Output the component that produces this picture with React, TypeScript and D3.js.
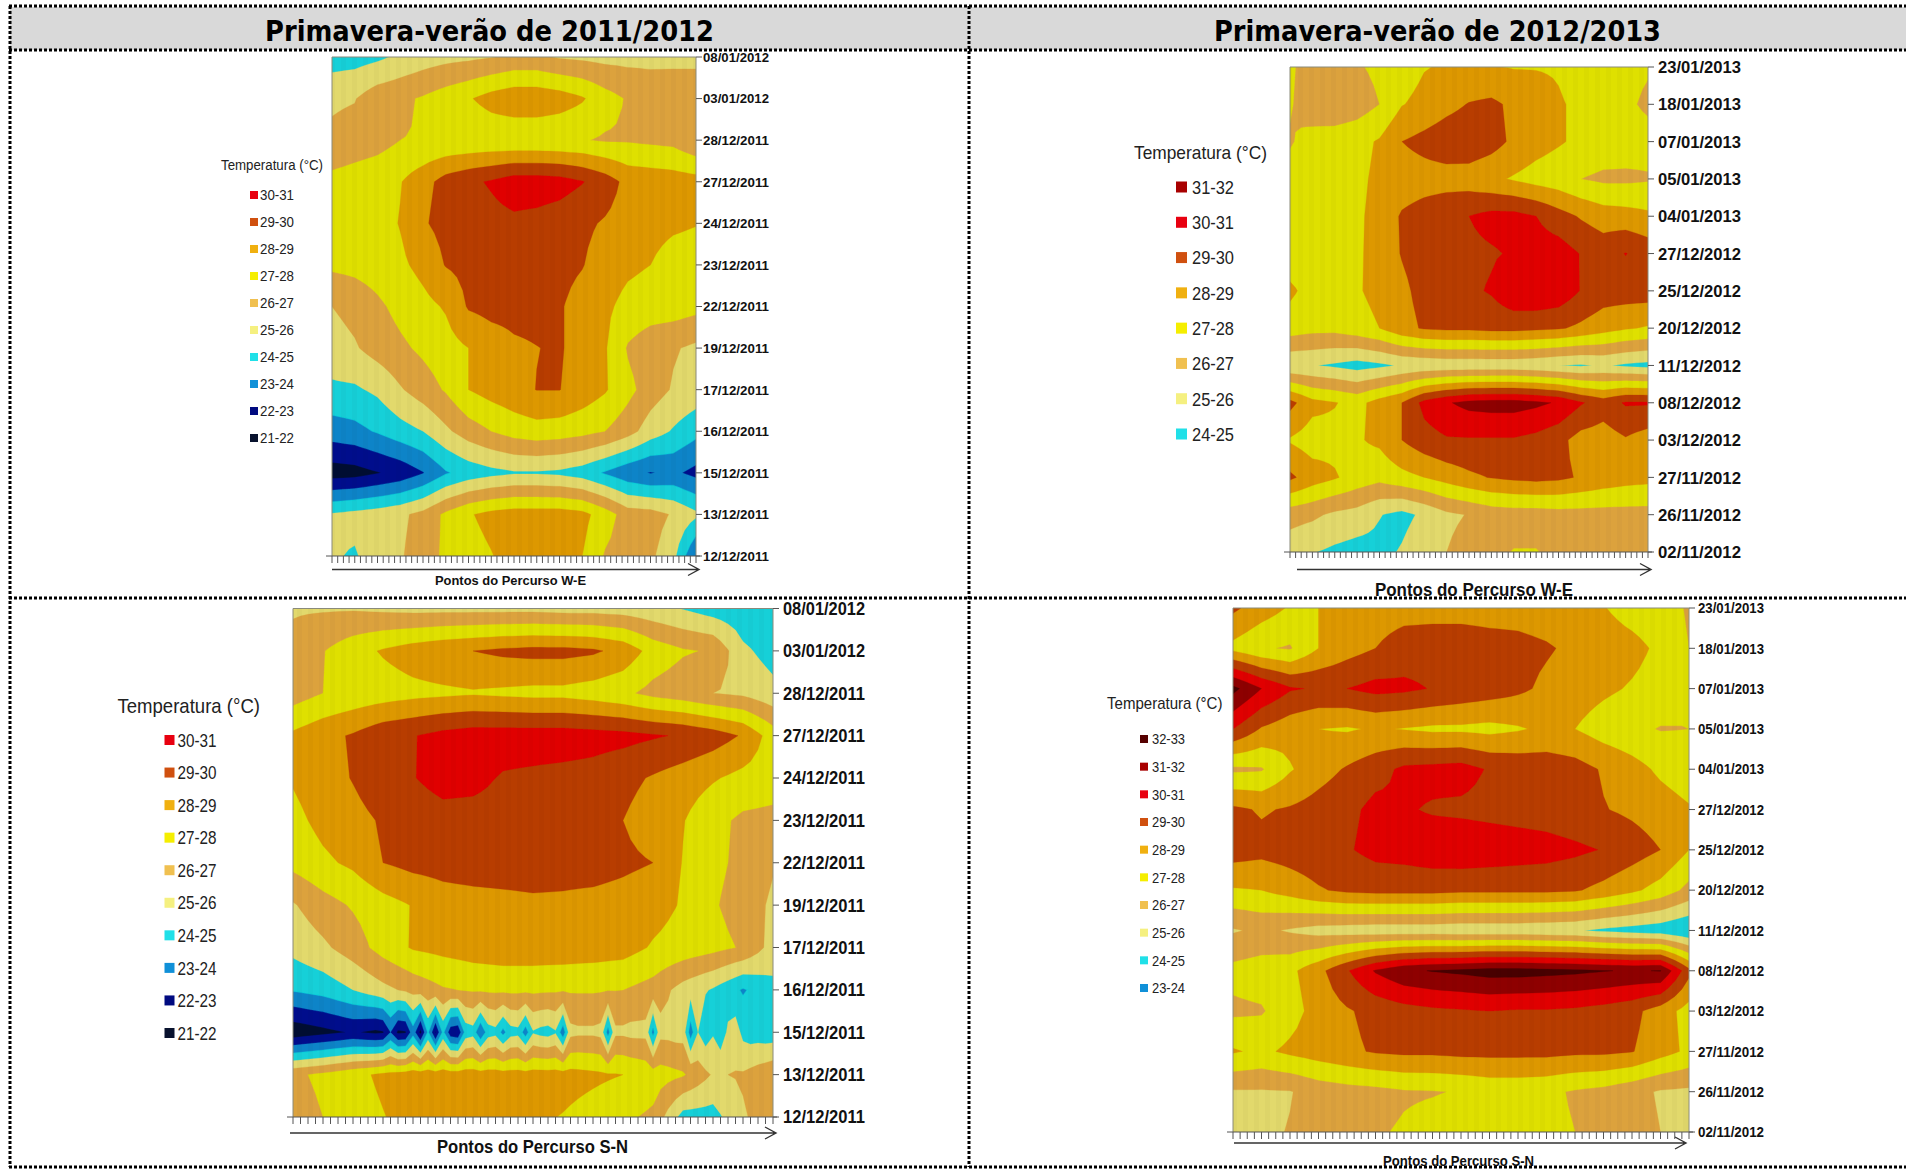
import React from "react";
import * as d3 from "d3";

const bandFloors = [21, 22, 23, 24, 25, 26, 27, 28, 29, 30, 31, 32];
const bandColors = ["#040d33", "#00108c", "#0a84c8", "#12d0d8", "#e2d96c", "#dca23e", "#dfe000", "#dd9800", "#b83c00", "#e00000", "#8e0000", "#480000"];
const legendColors: Record<string, string> = {
  "32-33": "#560000", "31-32": "#a80000", "30-31": "#e80010", "29-30": "#d0500f", "28-29": "#f0b010",
  "27-28": "#f5ee00", "26-27": "#f0c050", "25-26": "#f5f080", "24-25": "#20e0e8", "23-24": "#1090d8", "22-23": "#000a80", "21-22": "#08122e",
};

const datesA = ["08/01/2012", "03/01/2012", "28/12/2011", "27/12/2011", "24/12/2011", "23/12/2011", "22/12/2011", "19/12/2011", "17/12/2011", "16/12/2011", "15/12/2011", "13/12/2011", "12/12/2011"];
const datesB = ["23/01/2013", "18/01/2013", "07/01/2013", "05/01/2013", "04/01/2013", "27/12/2012", "25/12/2012", "20/12/2012", "11/12/2012", "08/12/2012", "03/12/2012", "27/11/2012", "26/11/2012", "02/11/2012"];

const legendA = ["30-31", "29-30", "28-29", "27-28", "26-27", "25-26", "24-25", "23-24", "22-23", "21-22"];
const legendB = ["31-32", "30-31", "29-30", "28-29", "27-28", "26-27", "25-26", "24-25"];
const legendD = ["32-33", "31-32", "30-31", "29-30", "28-29", "27-28", "26-27", "25-26", "24-25", "23-24"];

const gridWE2011 = [
  [24.5, 24.6, 24.8, 25.2, 25.5, 25.7, 25.8, 25.95, 26.2, 26.2, 25.9, 25.8, 25.7, 25.7, 25.7, 25.8, 25.8],
  [25.85, 25.95, 26.6, 26.8, 27.1, 27.5, 27.9, 28.4, 28.7, 28.7, 28.5, 28.1, 27.4, 26.9, 26.7, 26.5, 26.5],
  [26.2, 26.4, 26.6, 27.0, 27.05, 27.1, 27.15, 27.2, 27.15, 27.15, 27.1, 27.05, 26.9, 26.9, 26.8, 26.7, 26.1],
  [27.3, 27.5, 27.7, 27.95, 28.6, 29.4, 29.8, 30.1, 30.5, 30.5, 30.4, 30.05, 29.5, 28.7, 28.6, 28.5, 28.4],
  [27.3, 27.4, 27.6, 28.05, 28.9, 29.3, 29.5, 29.7, 29.8, 29.7, 29.5, 29.2, 28.9, 28.6, 28.4, 28.2, 28.05],
  [27.2, 27.3, 27.5, 27.8, 28.3, 29.05, 29.3, 29.4, 29.4, 29.4, 29.3, 29.05, 28.5, 28.2, 28.0, 27.5, 27.4],
  [26.0, 26.3, 26.8, 27.3, 27.7, 28.1, 29.1, 29.3, 29.3, 29.3, 29.1, 28.6, 28.2, 27.7, 27.5, 27.5, 27.3],
  [25.6, 25.9, 26.4, 26.8, 27.2, 27.6, 28.0, 28.5, 28.85, 28.98, 29.1, 28.6, 28.1, 26.9, 26.4, 26.1, 25.8],
  [24.8, 24.85, 25.2, 25.9, 26.5, 27.1, 28.0, 28.4, 28.7, 29.02, 29.02, 28.6, 28.1, 27.3, 26.5, 25.9, 25.6],
  [23.5, 23.7, 24.1, 24.6, 25.0, 25.8, 26.5, 27.0, 27.4, 27.6, 27.5, 27.3, 27.0, 26.4, 25.5, 24.9, 24.3],
  [21.5, 21.6, 21.95, 22.3, 22.95, 23.9, 24.4, 24.7, 24.9, 24.9, 24.8, 24.5, 23.9, 23.3, 22.95, 23.2, 22.7],
  [25.1, 25.3, 25.5, 25.8, 26.3, 27.2, 27.9, 28.3, 28.5, 28.5, 28.5, 28.3, 27.5, 26.5, 26.4, 25.9, 25.2],
  [25.1, 24.9, 25.5, 25.9, 26.5, 27.2, 27.6, 27.95, 28.4, 28.5, 28.4, 28.0, 26.9, 26.5, 26.2, 25.3, 22.9],
];

const gridWE2012 = [
  [27.1, 26.7, 26.6, 26.9, 27.2, 27.5, 27.95, 28.1, 28.1, 28.05, 27.95, 27.95, 27.9, 27.5, 27.4, 27.3, 27.1],
  [27.1, 26.4, 26.3, 26.5, 27.0, 27.95, 28.3, 28.7, 29.05, 29.2, 28.8, 28.5, 28.1, 27.8, 27.5, 27.2, 26.8],
  [26.9, 27.4, 27.5, 27.7, 28.1, 29.0, 29.3, 29.6, 29.7, 29.4, 28.8, 28.4, 28.1, 27.8, 27.6, 27.5, 27.4],
  [27.4, 27.5, 27.6, 27.8, 28.2, 28.5, 28.6, 28.6, 28.5, 28.2, 27.9, 27.6, 27.4, 27.0, 26.8, 26.8, 26.9],
  [27.4, 27.5, 27.6, 27.8, 28.4, 29.1, 29.4, 29.7, 30.0, 30.3, 30.3, 30.0, 29.4, 28.9, 28.5, 28.4, 28.2],
  [27.4, 27.5, 27.6, 27.8, 28.5, 29.05, 29.4, 29.6, 29.8, 29.9, 30.1, 30.5, 30.5, 29.95, 29.6, 30.03, 29.6],
  [28.2, 27.6, 27.6, 27.9, 28.3, 28.8, 29.3, 29.6, 29.8, 30.1, 30.8, 30.9, 30.7, 29.95, 29.5, 29.5, 29.5],
  [27.5, 27.3, 27.3, 27.6, 28.0, 28.7, 29.1, 29.2, 29.2, 29.3, 29.3, 29.2, 29.1, 28.8, 28.4, 28.1, 27.9],
  [25.1, 25.05, 24.85, 24.6, 24.8, 25.1, 25.2, 25.3, 25.3, 25.3, 25.3, 25.2, 25.0, 24.9, 25.1, 24.85, 24.7],
  [29.3, 28.3, 28.05, 27.7, 28.4, 29.0, 30.3, 30.9, 31.3, 31.4, 31.4, 31.2, 30.9, 30.1, 29.5, 30.1, 30.1],
  [27.9, 27.5, 27.7, 27.9, 28.2, 29.0, 29.6, 29.9, 29.9, 29.9, 29.9, 29.7, 29.3, 28.6, 28.5, 28.9, 28.5],
  [29.2, 28.5, 28.1, 27.6, 27.3, 27.7, 28.0, 28.4, 28.8, 29.05, 29.2, 29.3, 29.2, 28.9, 28.6, 28.4, 28.3],
  [26.4, 26.2, 25.8, 25.6, 25.05, 24.7, 25.2, 25.8, 26.05, 26.4, 26.5, 26.5, 26.6, 26.6, 26.6, 26.6, 26.6],
  [25.4, 25.05, 24.8, 24.6, 24.7, 25.1, 25.7, 26.0, 26.4, 26.7, 27.05, 27.05, 26.7, 26.6, 26.5, 26.5, 26.5],
];

const gridSN2011 = [
  [25.9, 25.9, 25.9, 25.8, 25.7, 25.7, 25.7, 25.7, 25.7, 25.6, 25.6, 25.5, 25.3, 24.95, 24.5, 24.3, 24.3],
  [26.3, 26.95, 27.6, 28.1, 28.5, 28.8, 29.0, 29.2, 29.3, 29.3, 29.15, 28.7, 27.6, 27.1, 26.9, 25.2, 24.6],
  [26.5, 27.0, 27.3, 27.5, 27.7, 27.8, 27.9, 27.8, 27.7, 27.7, 27.5, 27.2, 26.7, 26.4, 26.0, 25.8, 25.3],
  [28.2, 28.7, 29.1, 29.7, 29.95, 30.3, 30.5, 30.5, 30.5, 30.5, 30.4, 30.3, 30.1, 29.9, 29.5, 28.9, 27.5],
  [28.1, 28.6, 29.05, 29.6, 29.95, 30.4, 30.3, 29.9, 29.8, 29.7, 29.6, 29.3, 28.9, 28.5, 28.1, 27.7, 27.5],
  [27.7, 28.3, 28.7, 29.1, 29.4, 29.6, 29.6, 29.6, 29.6, 29.5, 29.4, 29.0, 28.5, 28.05, 27.3, 26.8, 26.7],
  [27.3, 27.8, 28.2, 29.0, 29.3, 29.4, 29.5, 29.5, 29.5, 29.4, 29.4, 29.2, 29.0, 27.95, 27.2, 26.8, 26.1],
  [25.9, 26.6, 27.1, 27.6, 28.05, 28.5, 28.6, 28.7, 28.8, 28.8, 28.7, 28.6, 28.4, 27.9, 27.1, 26.6, 25.8],
  [25.3, 25.8, 26.5, 27.4, 28.1, 28.3, 28.5, 28.6, 28.6, 28.6, 28.5, 28.4, 27.9, 27.6, 27.3, 26.9, 25.6],
  [24.1, 24.4, 25.0, 25.7, 26.3, 26.9, 27.1, 27.2, 27.2, 27.1, 27.1, 27.0, 26.6, 25.6, 24.9, 23.9, 24.7],
  [21.5, 22.0, 22.6, 22.4, 22.5, 22.4, 24.6, 24.7, 24.8, 24.7, 25.8, 25.8, 25.7, 25.6, 24.7, 25.5, 24.4],
  [26.8, 27.2, 27.7, 28.2, 28.5, 28.5, 28.5, 28.4, 28.4, 28.4, 28.2, 28.0, 27.5, 27.1, 25.9, 26.1, 26.8],
  [26.5, 27.0, 27.5, 27.95, 28.4, 28.5, 28.4, 28.3, 28.2, 27.95, 27.6, 27.2, 26.8, 24.6, 24.6, 25.9, 26.5],
];
// 15/12/2011 along all 65 route points of the S-N transect (the row with the narrow spikes)
const spikeRowSN2011 = [
  21.3, 21.4, 21.5, 21.6, 21.7, 21.8, 21.9, 22.0, 22.1, 22.0, 21.9, 21.8, 21.9, 23.0, 21.8, 21.9, 23.6, 21.7, 24.2, 21.9, 24.3, 22.4,
  22.2, 24.4, 24.6, 23.1, 24.5, 24.7, 23.7, 24.6, 24.7, 23.5, 24.9, 24.7, 24.6, 24.9, 23.4, 25.7, 25.8, 25.8, 25.8, 25.7, 23.6, 25.8,
  25.8, 25.7, 25.7, 25.7, 23.7, 25.7, 25.7, 25.6, 25.6, 23.5, 25.0, 24.4, 24.9, 24.3, 25.2, 25.5, 24.7, 24.5, 24.5, 24.4, 24.4,
];

const gridSN2012 = [
  [29.2, 28.5, 27.9, 28.0, 28.3, 28.5, 28.6, 28.6, 28.6, 28.6, 28.6, 28.5, 28.4, 28.05, 27.6, 27.4, 26.9],
  [27.7, 27.1, 26.9, 28.0, 28.6, 29.0, 29.5, 29.6, 29.6, 29.4, 29.3, 29.1, 28.8, 28.5, 28.3, 27.8, 27.0],
  [32.3, 31.0, 30.1, 29.9, 30.0, 30.3, 30.2, 29.95, 29.7, 29.5, 29.2, 28.8, 28.5, 28.2, 27.9, 27.6, 27.0],
  [30.0, 28.9, 28.4, 28.0, 27.9, 28.1, 27.95, 27.8, 27.8, 27.7, 27.9, 28.2, 28.0, 27.5, 27.2, 26.95, 27.0],
  [26.8, 26.9, 27.9, 28.6, 29.1, 29.6, 30.2, 30.3, 30.4, 29.9, 29.7, 29.6, 29.4, 28.9, 28.4, 27.8, 27.4],
  [29.2, 28.9, 29.1, 29.4, 29.7, 30.3, 30.1, 29.9, 29.8, 29.7, 29.6, 29.5, 29.3, 29.05, 28.8, 28.5, 28.1],
  [29.5, 29.3, 29.5, 29.7, 29.9, 30.3, 30.4, 30.6, 30.7, 30.6, 30.5, 30.4, 30.2, 29.95, 29.5, 29.0, 28.0],
  [27.9, 28.0, 28.4, 28.9, 29.2, 29.3, 29.3, 29.3, 29.2, 29.2, 29.2, 29.2, 29.1, 28.7, 28.2, 27.6, 26.7],
  [25.9, 26.2, 25.9, 25.6, 25.5, 25.4, 25.4, 25.4, 25.3, 25.3, 25.3, 25.2, 25.1, 24.8, 24.6, 24.4, 24.0],
  [27.3, 27.5, 27.75, 28.7, 29.9, 31.1, 31.8, 32.05, 32.2, 32.4, 32.4, 32.3, 32.2, 32.05, 31.9, 32.05, 29.3],
  [26.8, 26.9, 27.6, 28.4, 28.9, 29.3, 29.6, 29.8, 29.9, 30.0, 29.9, 29.9, 29.8, 29.6, 29.3, 28.5, 27.6],
  [28.1, 27.8, 28.2, 28.5, 28.8, 29.1, 29.2, 29.2, 29.3, 29.3, 29.3, 29.3, 29.2, 29.2, 29.05, 28.4, 27.8],
  [25.9, 25.9, 25.95, 26.4, 26.6, 26.7, 26.9, 26.95, 27.05, 27.3, 27.3, 27.2, 26.9, 26.7, 26.3, 25.9, 25.8],
  [25.6, 25.8, 26.05, 26.4, 26.7, 26.9, 27.1, 27.3, 27.4, 27.4, 27.3, 27.2, 27.0, 26.7, 26.4, 26.0, 25.7],
];

const routePoints = 65;
const FONT = "'Liberation Sans', Arial, sans-serif";

// The coarse readings are spread over all route points across each row for the contour field.
function buildField(grid: number[][], fine?: { row: number; values: number[] }) {
  const cols = grid[0].length;
  const out: number[] = [];
  grid.forEach((row, r) => {
    const interp = d3.piecewise(d3.interpolateNumber, row);
    d3.range(routePoints).forEach((i) => {
      out.push(fine && fine.row === r ? fine.values[i] : interp(i / (routePoints - 1)));
    });
  });
  return out;
}

type PanelCfg = {
  id: string; grid: number[][]; fine?: { row: number; values: number[] }; dates: string[]; legend: string[];
  x0: number; x1: number; y0: number; y1: number;
  dateX: number; dateW: number; dateFs: number;
  tTitle: { x: number; w: number; y: number; fs: number };
  swatch: { x: number; size: number; y0: number; y1: number };
  labelX: number; labelW: number; labelFs: number;
  arrow: { x0: number; x1: number; y: number };
  axisLabel: { text: string; x: number; w: number; y: number; fs: number };
  tickLen: number;
};

const panels: PanelCfg[] = [
  {
    id: "a", grid: gridWE2011, dates: datesA, legend: legendA, x0: 332, x1: 696, y0: 57, y1: 556,
    dateX: 703, dateW: 66, dateFs: 13.5,
    tTitle: { x: 221, w: 102, y: 165, fs: 14 }, swatch: { x: 250, size: 8, y0: 195, y1: 438 },
    labelX: 260, labelW: 34, labelFs: 14.5, arrow: { x0: 332, x1: 699, y: 569.5 },
    axisLabel: { text: "Pontos do Percurso W-E", x: 435, w: 151, y: 580, fs: 13.5 }, tickLen: 7,
  },
  {
    id: "b", grid: gridWE2012, dates: datesB, legend: legendB, x0: 1290, x1: 1648, y0: 67, y1: 552,
    dateX: 1658, dateW: 83, dateFs: 17,
    tTitle: { x: 1134, w: 133, y: 152, fs: 19 }, swatch: { x: 1176, size: 11, y0: 187, y1: 434 },
    labelX: 1192, labelW: 42, labelFs: 19, arrow: { x0: 1297, x1: 1651, y: 569.5 },
    axisLabel: { text: "Pontos do Percurso W-E", x: 1375, w: 198, y: 589, fs: 19 }, tickLen: 6,
  },
  {
    id: "c", grid: gridSN2011, fine: { row: 10, values: spikeRowSN2011 }, dates: datesA, legend: legendA, x0: 293, x1: 773, y0: 608.5, y1: 1117,
    dateX: 783, dateW: 82, dateFs: 18,
    tTitle: { x: 117.5, w: 142.5, y: 705, fs: 21 }, swatch: { x: 164.5, size: 10, y0: 740, y1: 1033 },
    labelX: 177.5, labelW: 39, labelFs: 18.5, arrow: { x0: 290, x1: 776, y: 1133 },
    axisLabel: { text: "Pontos do Percurso S-N", x: 437, w: 191, y: 1147, fs: 18 }, tickLen: 7,
  },
  {
    id: "d", grid: gridSN2012, dates: datesB, legend: legendD, x0: 1233, x1: 1689, y0: 608, y1: 1132,
    dateX: 1698, dateW: 66, dateFs: 14.5,
    tTitle: { x: 1107, w: 115.5, y: 703, fs: 17 }, swatch: { x: 1140, size: 8, y0: 739, y1: 988 },
    labelX: 1152, labelW: 33, labelFs: 15, arrow: { x0: 1234, x1: 1686, y: 1143 },
    axisLabel: { text: "Pontos do Percurso S-N", x: 1383, w: 151, y: 1161, fs: 15 }, tickLen: 7,
  },
];

function Panel({ p }: { p: PanelCfg }) {
  const nRows = p.grid.length;
  const values = buildField(p.grid, p.fine);
  const sx = d3.scaleLinear().domain([0.5, routePoints - 0.5]).range([p.x0, p.x1]);
  const sy = d3.scaleLinear().domain([0.5, nRows - 0.5]).range([p.y0, p.y1]);
  const yDate = d3.scalePoint<string>().domain(p.dates).range([p.y0, p.y1]);
  const xPoint = d3.scaleLinear().domain([0, routePoints - 1]).range([p.x0, p.x1]);
  const path = d3.geoPath(
    d3.geoTransform({
      point(x: number, y: number) {
        (this as any).stream.point(sx(x), sy(y));
      },
    })
  );
  const contours = d3.contours().size([routePoints, nRows]).smooth(true).thresholds(bandFloors)(values);
  const legendY = d3.scalePoint<string>().domain(p.legend).range([p.swatch.y0, p.swatch.y1]);
  return (
    <g>
      <clipPath id={"clip-" + p.id}>
        <rect x={p.x0} y={p.y0} width={p.x1 - p.x0} height={p.y1 - p.y0} />
      </clipPath>
      <g clipPath={`url(#clip-${p.id})`} filter="url(#soft)">
        <rect x={p.x0} y={p.y0} width={p.x1 - p.x0} height={p.y1 - p.y0} fill={bandColors[0]} />
        {contours.map((c, i) => (
          <path key={i} d={path(c as any) || ""} fill={bandColors[i]} stroke={bandColors[i]} strokeWidth={0.3} />
        ))}
        <rect x={p.x0} y={p.y0} width={p.x1 - p.x0} height={p.y1 - p.y0} fill="url(#stripes)" />
      </g>
      <path d={`M${p.x0},${p.y1}V${p.y0}H${p.x1}V${p.y1}`} fill="none" stroke="#8a8a7a" strokeWidth={1} />
      {p.dates.map((d) => (
        <g key={d}>
          <line x1={p.x1} x2={p.x1 + 6} y1={yDate(d)} y2={yDate(d)} stroke="#555" />
          <text x={p.dateX} y={yDate(d)! + p.dateFs * 0.36} fontFamily={FONT} fontWeight="bold" fontSize={p.dateFs} textLength={p.dateW} lengthAdjust="spacingAndGlyphs" fill="#111">
            {d}
          </text>
        </g>
      ))}
      <line x1={p.x0 - 6} x2={p.x1 + 4} y1={p.y1} y2={p.y1} stroke="#555" />
      {d3.range(routePoints).map((i) => (
        <line key={i} x1={xPoint(i)} x2={xPoint(i)} y1={p.y1} y2={p.y1 + p.tickLen} stroke="#555" strokeWidth={1} />
      ))}
      <path
        d={`M${p.arrow.x0},${p.arrow.y}H${p.arrow.x1 - 1}M${p.arrow.x1 - 11},${p.arrow.y - 6}L${p.arrow.x1},${p.arrow.y}L${p.arrow.x1 - 11},${p.arrow.y + 6}`}
        fill="none" stroke="#333" strokeWidth={1.4}
      />
      <text x={p.axisLabel.x} y={p.axisLabel.y + p.axisLabel.fs * 0.36} fontFamily={FONT} fontWeight="bold" fontSize={p.axisLabel.fs} textLength={p.axisLabel.w} lengthAdjust="spacingAndGlyphs" fill="#111">
        {p.axisLabel.text}
      </text>
      <text x={p.tTitle.x} y={p.tTitle.y + p.tTitle.fs * 0.36} fontFamily={FONT} fontSize={p.tTitle.fs} textLength={p.tTitle.w} lengthAdjust="spacingAndGlyphs" fill="#222">
        Temperatura (°C)
      </text>
      {p.legend.map((k) => (
        <g key={k}>
          <rect x={p.swatch.x} y={legendY(k)! - p.swatch.size / 2} width={p.swatch.size} height={p.swatch.size} fill={legendColors[k]} />
          <text x={p.labelX} y={legendY(k)! + p.labelFs * 0.36} fontFamily={FONT} fontSize={p.labelFs} textLength={p.labelW} lengthAdjust="spacingAndGlyphs" fill="#222">
            {k}
          </text>
        </g>
      ))}
    </g>
  );
}

const titles = [
  { text: "Primavera-verão de 2011/2012", x: 265, w: 449 },
  { text: "Primavera-verão de 2012/2013", x: 1214, w: 447 },
];

export default function App() {
  const dots = { stroke: "#000", strokeWidth: 3, strokeDasharray: "3 2", fill: "none" };
  return (
    <svg width={1906} height={1170} viewBox="0 0 1906 1170" style={{ position: "absolute", left: 0, top: 0, background: "#fff" }}>
      <defs>
        <pattern id="stripes" width="11" height="10" patternUnits="userSpaceOnUse">
          <rect width="5" height="10" fill="#000" opacity="0.025" />
        </pattern>
        <filter id="soft" x="0" y="0" width="100%" height="100%">
          <feGaussianBlur stdDeviation="0.6" />
        </filter>
      </defs>
      <rect x={10} y={7} width={1896} height={43} fill="#d9d9d9" />
      {titles.map((t) => (
        <text key={t.text} x={t.x} y={41} fontFamily="'DejaVu Sans', sans-serif" fontWeight="bold" fontSize={28} textLength={t.w} lengthAdjust="spacingAndGlyphs" fill="#000">
          {t.text}
        </text>
      ))}
      {panels.map((p) => (
        <Panel key={p.id} p={p} />
      ))}
      <line x1={9} x2={1906} y1={6} y2={6} {...dots} />
      <line x1={9} x2={1906} y1={50} y2={50} {...dots} />
      <line x1={9} x2={1906} y1={598} y2={598} {...dots} />
      <line x1={9} x2={1906} y1={1167} y2={1167} {...dots} />
      <line x1={10} x2={10} y1={6} y2={1167} {...dots} />
      <line x1={969} x2={969} y1={6} y2={1167} {...dots} />
    </svg>
  );
}
